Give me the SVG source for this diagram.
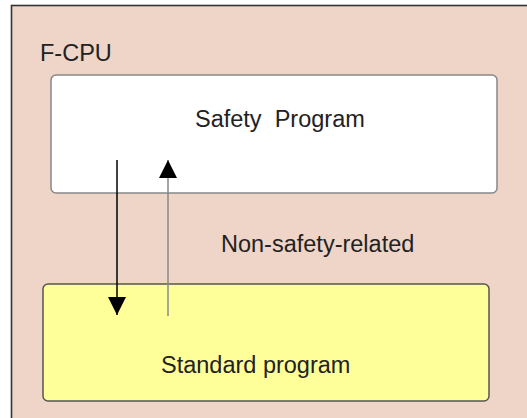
<svg xmlns="http://www.w3.org/2000/svg" width="527" height="418" viewBox="0 0 527 418">
<defs>
<style>
.t{font-family:"Liberation Sans",Arial,sans-serif;font-size:23.5px;fill:#222;}
.box{stroke-width:1.5;}
</style>
<marker id="ah" markerWidth="18" markerHeight="18" viewBox="0 0 18 18" refX="18" refY="9" orient="auto" markerUnits="userSpaceOnUse">
<path d="M0,0 L18,9 L0,18 Z" fill="#000"/>
</marker>
</defs>
<rect width="527" height="418" fill="#ffffff"/>
<g id="fcpu">
<rect x="11.5" y="5.5" width="540" height="440" fill="#EFD5C8" stroke="#333" stroke-width="1.6"/>
<text class="t" x="40" y="61">F-CPU</text>
</g>
<g id="safety">
<rect class="box" x="51" y="75" width="446" height="118" rx="5" fill="#ffffff" stroke="#888"/>
<text class="t" x="195" y="127" xml:space="preserve">Safety  Program</text>
</g>
<g id="standard">
<rect class="box" x="43" y="284" width="446" height="117" rx="5" fill="#FFFF99" stroke="#555"/>
<text class="t" x="161" y="373">Standard program</text>
</g>
<g id="connectors">
<line x1="117" y1="160" x2="117" y2="315" stroke="#000" stroke-width="1.5" marker-end="url(#ah)"/>
<line x1="168" y1="316" x2="168" y2="160" stroke="#888" stroke-width="1.5" marker-end="url(#ah)"/>
</g>
<g id="label">
<text class="t" x="221" y="252">Non-safety-related</text>
</g>
</svg>
